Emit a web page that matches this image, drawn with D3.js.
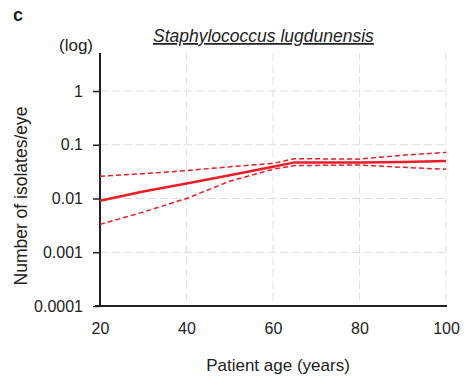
<!DOCTYPE html>
<html><head><meta charset="utf-8">
<script src="https://cdn.jsdelivr.net/npm/d3@7"></script>
<style>
body{margin:0;background:#fff;}
text{font-family:"Liberation Sans",Arial,sans-serif;}
</style></head>
<body>
<svg id="chart" width="465" height="385"></svg>
<script>
const ages = [20, 30, 40, 50, 60, 65, 80, 90, 100];
const meanVals = [0.0091, 0.0135, 0.019, 0.027, 0.039, 0.047, 0.047, 0.048, 0.050];
const upperVals = [0.026, 0.029, 0.033, 0.039, 0.045, 0.055, 0.054, 0.064, 0.072];
const lowerVals = [0.0033, 0.0056, 0.010, 0.021, 0.035, 0.041, 0.042, 0.038, 0.035];
const yTicks = [0.0001, 0.001, 0.01, 0.1, 1];
const yTickLabels = ["0.0001", "0.001", "0.01", "0.1", "1"];
const xTicks = [20, 40, 60, 80, 100];

const svg = d3.select("#chart");
const pLeft = 100, pRight = 446, pTop = 53, pBottom = 306;
const x = d3.scaleLinear().domain([20, 100]).range([pLeft, pRight]);
const y = d3.scaleLog().domain([0.0001, Math.pow(10, 0.707)]).range([pBottom, pTop]);

// gridlines
svg.append("g").selectAll("line").data(yTicks.slice(1)).join("line")
  .attr("x1", pLeft).attr("x2", pRight).attr("y1", d => y(d)).attr("y2", d => y(d))
  .attr("stroke", "#dcdcdc").attr("stroke-width", 1).attr("stroke-dasharray", "8,4");
svg.append("g").selectAll("line").data(xTicks.slice(1)).join("line")
  .attr("x1", d => x(d)).attr("x2", d => x(d)).attr("y1", pTop).attr("y2", pBottom)
  .attr("stroke", "#e2e2e2").attr("stroke-width", 1).attr("stroke-dasharray", "8,4");

// axes
const yAxis = d3.axisLeft(y).tickValues(yTicks).tickFormat((d, i) => yTickLabels[i]).tickSize(7).tickPadding(10);
const gy = svg.append("g").attr("transform", `translate(${pLeft},0)`).call(yAxis);
gy.select(".domain").attr("stroke", "#222").attr("stroke-width", 2).attr("d", `M0,${pTop}V${pBottom}`);
gy.selectAll(".tick line").attr("stroke", "#222").attr("stroke-width", 1.5);
gy.selectAll(".tick text").attr("font-size", 16).attr("fill", "#222").attr("font-family", "Liberation Sans, Arial, sans-serif");

const xAxis = d3.axisBottom(x).tickValues(xTicks).tickSize(0).tickPadding(17);
const gx = svg.append("g").attr("transform", `translate(0,${pBottom})`).call(xAxis);
gx.select(".domain").attr("stroke", "#222").attr("stroke-width", 2).attr("d", `M${pLeft-5},0H${pRight+1}`);
gx.selectAll(".tick text").attr("font-size", 16).attr("fill", "#222").attr("font-family", "Liberation Sans, Arial, sans-serif");

// lines
const line = d3.line().x((d, i) => x(ages[i])).y(d => y(d));
svg.append("path").datum(upperVals).attr("d", line).attr("fill", "none")
  .attr("stroke", "#ee1c25").attr("stroke-width", 1.5).attr("stroke-dasharray", "5,3");
svg.append("path").datum(lowerVals).attr("d", line).attr("fill", "none")
  .attr("stroke", "#ee1c25").attr("stroke-width", 1.5).attr("stroke-dasharray", "5,3");
svg.append("path").datum(meanVals).attr("d", line).attr("fill", "none")
  .attr("stroke", "#ee1c25").attr("stroke-width", 2.5);

// texts
svg.append("text").attr("x", 13).attr("y", 21).attr("font-size", 18).attr("font-weight", "bold").attr("fill", "#222").text("c");
svg.append("text").attr("x", 93).attr("y", 51).attr("text-anchor", "end").attr("font-size", 17).attr("fill", "#222").text("(log)");
svg.append("text").attr("x", 153).attr("y", 42).attr("font-size", 17.5).attr("font-style", "italic")
  .attr("text-decoration", "underline").attr("fill", "#222").text("Staphylococcus  lugdunensis ");
svg.append("text").attr("transform", "translate(27,196) rotate(-90)").attr("text-anchor", "middle")
  .attr("font-size", 17.5).attr("fill", "#222").text("Number of isolates/eye");
svg.append("text").attr("x", 278).attr("y", 371).attr("text-anchor", "middle")
  .attr("font-size", 17).attr("fill", "#222").text("Patient age (years)");
</script>
</body></html>
